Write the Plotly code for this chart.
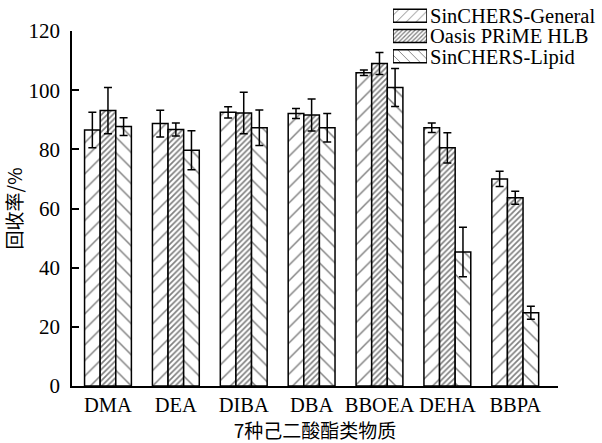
import plotly.graph_objects as go

categories = ["DMA", "DEA", "DIBA", "DBA", "BBOEA", "DEHA", "BBPA"]

general = [86.5, 88.7, 92.5, 92.1, 105.9, 87.3, 70.0]
general_err = [6.0, 4.5, 1.9, 1.7, 0.9, 1.6, 2.6]

oasis = [93.1, 86.7, 92.3, 91.6, 109.0, 80.5, 63.6]
oasis_err = [7.8, 2.2, 7.0, 5.4, 3.7, 5.1, 2.2]

lipid = [87.7, 79.7, 87.3, 87.3, 100.9, 45.3, 24.8]
lipid_err = [3.0, 6.6, 6.0, 4.8, 6.4, 8.4, 2.2]

series_names = ["SinCHERS-General", "Oasis PRiME HLB", "SinCHERS-Lipid"]
series_values = [general, oasis, lipid]
series_errors = [general_err, oasis_err, lipid_err]

# hatch styles: (shape, tile size in bars, tile size in key, solidity)
hatches = [("/", 11, 7, 0.13), ("/", 4, 3, 0.42), ("\\", 11, 7, 0.13)]

font_latin = "Liberation Serif, Times New Roman, serif"
font_cjk = "Noto Sans CJK SC, sans-serif"

fig = go.Figure()
for name, vals, errs, (shape, size, _, solid) in zip(series_names, series_values,
                                                      series_errors, hatches):
    fig.add_trace(go.Bar(
        name=name, x=categories, y=vals, showlegend=False,
        error_y=dict(type="data", array=errs, visible=True,
                     color="black", thickness=1.5, width=4),
        marker=dict(
            color="white", line=dict(color="black", width=1.5),
            pattern=dict(shape=shape, size=size, solidity=solid,
                         fgcolor="black", bgcolor="white", fillmode="overlay"),
        ),
    ))

# key: one hatched swatch per series, labelled by the axis tick text
for name, (shape, _, ksize, solid) in zip(series_names, hatches):
    fig.add_trace(go.Bar(
        name=name, x=[1], y=[name], orientation="h", width=0.64,
        xaxis="x2", yaxis="y2", showlegend=False, hoverinfo="skip",
        marker=dict(
            color="white", line=dict(color="black", width=1.5),
            pattern=dict(shape=shape, size=ksize, solidity=solid,
                         fgcolor="black", bgcolor="white", fillmode="overlay"),
        ),
    ))

fig.update_layout(
    width=602, height=443,
    margin=dict(l=72, r=44, t=0, b=57, autoexpand=False),
    paper_bgcolor="white", plot_bgcolor="white",
    barmode="group", bargap=0.31, bargroupgap=0,
    font=dict(family=font_latin, size=20, color="black"),
    xaxis=dict(
        range=[-0.53, 6.63],
        showline=True, linecolor="black", linewidth=1.5,
        ticks="", showgrid=False, zeroline=False,
        ticklabelstandoff=0,
        tickfont=dict(size=20.5, family=font_latin),
        title=dict(text="7种己二酸酯类物质", standoff=3,
                   font=dict(size=19, family=font_cjk)),
    ),
    yaxis=dict(
        domain=[0, 355 / 386],
        range=[0, 120], dtick=20,
        showline=True, linecolor="black", linewidth=1.5,
        ticks="inside", ticklen=7, tickwidth=1.5, tickcolor="black",
        showgrid=False, zeroline=False,
        ticklabelstandoff=6,
        tickfont=dict(size=21, family=font_latin),
        title=dict(text="回收率/%", standoff=6,
                   font=dict(size=19, family=font_cjk)),
    ),
    xaxis2=dict(
        domain=[0.6605, 0.7305], range=[0, 1], anchor="y2",
        visible=False, fixedrange=True,
    ),
    yaxis2=dict(
        domain=[0.8277, 0.9858], anchor="x2", side="right",
        type="category", autorange="reversed",
        tickmode="array", tickvals=series_names, ticktext=series_names,
        showline=False, ticks="", showgrid=False, zeroline=False,
        ticklabelstandoff=2, fixedrange=True,
        tickfont=dict(size=20.5, family=font_latin),
    ),
)

fig.write_html("out.html")
